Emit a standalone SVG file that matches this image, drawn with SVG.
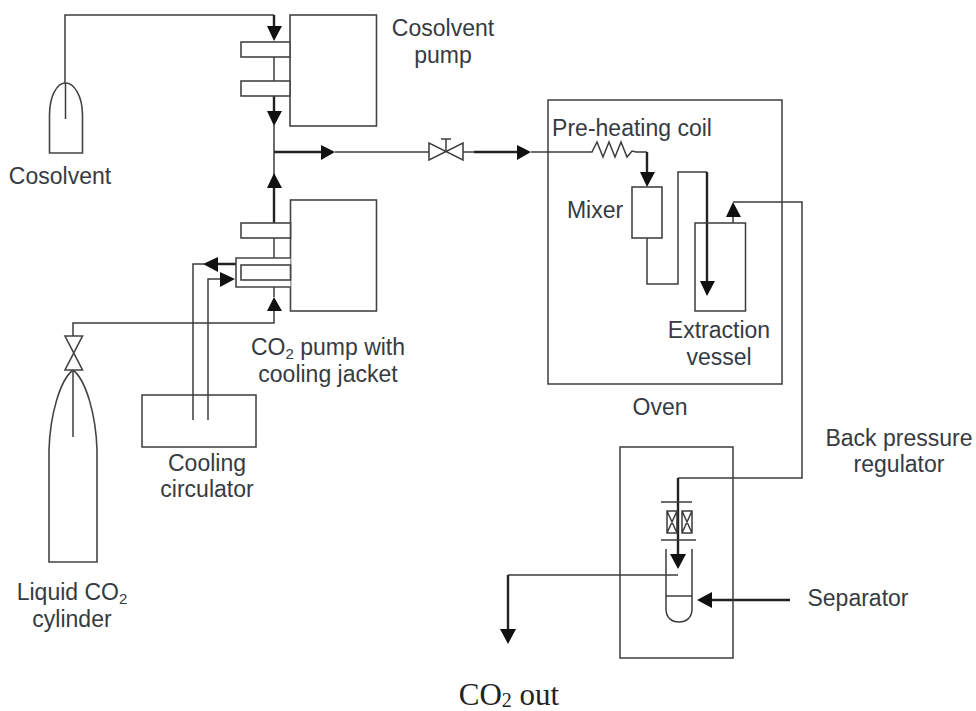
<svg xmlns="http://www.w3.org/2000/svg" width="976" height="711" viewBox="0 0 976 711">
<style>
.l{fill:none;stroke:#3c3c3c;stroke-width:1.5}
.b{fill:#fff;stroke:#444;stroke-width:1.6}
.t{stroke:#222;stroke-width:2.4;fill:none}
.a{fill:#111;stroke:none}
text{font-family:"Liberation Sans",Arial,sans-serif;font-size:23px;fill:#363b42;text-anchor:middle}
.s{font-family:"Liberation Serif","Times New Roman",serif;font-size:31px;fill:#222}
</style>
<rect width="976" height="711" fill="#fff"/>
<g id="connectors">
<path class="l" d="M65 85V15H274M274 57V81M274 125V260M274 152H321M335 152H429M463 152H474M531 152H587L592 152 597 142 603 157 609 142 615 157 621 142 627 157 632 151 636 152H647M733 223V217M733 202H802V478H678M647 238V284H678V172H707M73 337V323H274V311M274 297V287M193 420V264H204M208 420V279H221M678 575H508"/>
<path class="t" d="M274 15V27M274 96V112M274 188V223M274 152H321M474 152H517M647 152V172M707 172V282M218 264H236M678 478V555M508 575V630M712 600H790"/>
<g id="arrowheads">
<path class="a" d="M267 26H282L274 41ZM267 111H282L274 126ZM321 145V160L335 152ZM267 188H282L274 173ZM203 264L218 257V272ZM235 279L220 272V287ZM267 311H282L274 297ZM517 145V160L531 152ZM640 172H655L647 187ZM700 281H715L707 296ZM726 217H741L733 202ZM670 554H686L678 569ZM500 629H516L508 644ZM697 600L712 592V608Z"/>
</g>
</g>
<g id="cosolvent-pump">
<rect class="b" x="290" y="15" width="86.500" height="111"/>
<rect class="b" x="241" y="42" width="49" height="15"/>
<rect class="b" x="241" y="81" width="49" height="15"/>
<text x="443" y="36">Cosolvent</text><text x="443" y="63">pump</text>
</g>
<g id="cosolvent">
<path class="b" d="M49.500 153V115C49.500 96 57 83 65.500 83S82.500 96 82.500 115V153Z"/>
<path class="l" d="M65.500 83V119"/>
<text x="60" y="184">Cosolvent</text>
</g>
<g id="co2-pump">
<rect class="b" x="290.500" y="200" width="86" height="111"/>
<rect class="b" x="241" y="223" width="49.500" height="15"/>
<path class="b" d="M290.500 258H236V287H290.500"/>
<rect class="b" x="241" y="265" width="49.500" height="15"/>
<text x="328" y="355">CO<tspan font-size="15" dy="4">2</tspan><tspan dy="-4"> pump with</tspan></text>
<text x="328" y="382">cooling jacket</text>
</g>
<g id="liquid-co2-cylinder">
<path class="b" d="M49 562V450C50 415 60 380 73 370C86 380 96 415 97 450V562Z"/>
<path class="l" d="M73 370V437"/>
<path class="b" d="M65 336H82.500L65 370H82.500Z"/>
<text x="72" y="600">Liquid CO<tspan font-size="15" dy="4">2</tspan></text>
<text x="72" y="627">cylinder</text>
</g>
<g id="cooling-circulator">
<rect class="l" x="142" y="395" width="114" height="52"/>
<text x="207" y="471">Cooling</text><text x="207" y="497">circulator</text>
</g>
<g id="valve">
<path class="b" d="M429 143V160L463 143V160Z"/>
<path class="l" d="M446 152V139M441 139H451"/>
</g>
<g id="oven">
<rect class="l" x="548" y="100" width="234" height="284"/>
<text x="632" y="136">Pre-heating coil</text>
<text x="660" y="415">Oven</text>
</g>
<g id="mixer">
<rect class="b" x="632" y="187" width="30" height="51"/>
<text x="595" y="218">Mixer</text>
</g>
<g id="extraction-vessel">
<path class="l" d="M695 223H745.500V311H695Z"/>
<text x="719" y="338">Extraction</text><text x="719" y="365">vessel</text>
</g>
<g id="separator-box">
<rect class="l" x="620" y="447" width="113" height="211"/>
</g>
<g id="back-pressure-regulator">
<path class="l" d="M661 502H692M661 540H696"/>
<path class="l" d="M667 511H677V533H667ZM667 511L677 533M677 511L667 533M682 511H692V533H682ZM682 511L692 533M692 511L682 533"/>
<text x="899" y="446">Back pressure</text><text x="899" y="472">regulator</text>
</g>
<g id="separator">
<path class="l" d="M666 549V609C666 618 672 622 679 622S692 618 692 609V549M666 596H692"/>
<text x="858" y="606">Separator</text>
</g>
<text class="s" x="509" y="705">CO<tspan font-size="20" dy="2">2</tspan><tspan dy="-2"> out</tspan></text>
</svg>
